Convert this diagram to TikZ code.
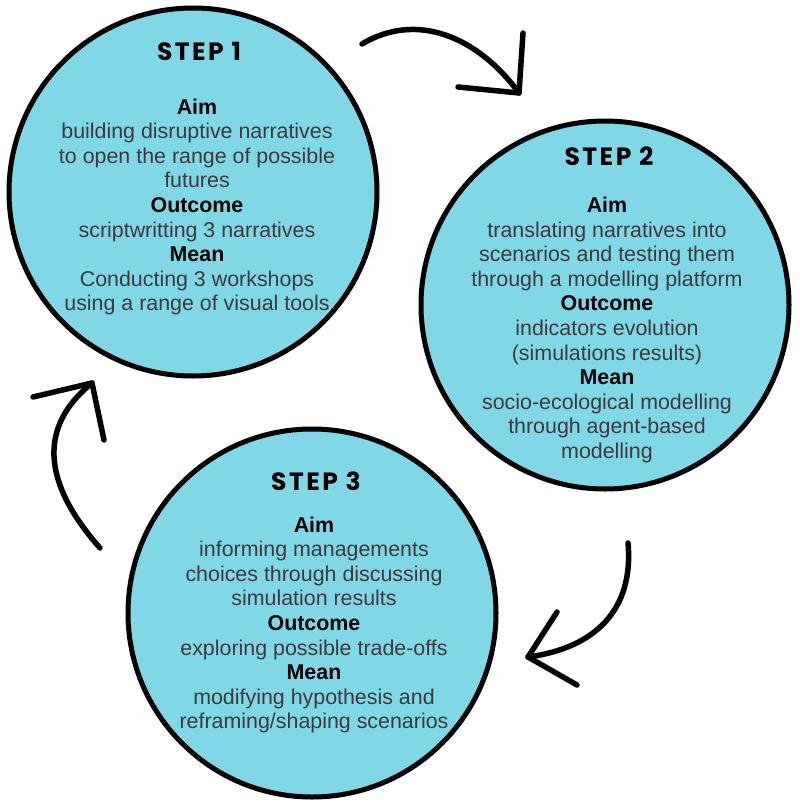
\documentclass[tikz,border=0pt]{standalone}
\usepackage{fontspec}
\setmainfont{Liberation Sans}
\newfontfamily\headfont[LetterSpace=10]{Poppins}
\definecolor{cyanfill}{RGB}{128,216,230}
\definecolor{bodygray}{RGB}{58,58,58}
\tikzset{
  stepcircle/.style={circle, draw=black, line width=5pt, fill=cyanfill, minimum size=368pt, inner sep=0pt},
  steptitle/.style={anchor=base, inner sep=0pt, font=\headfont\bfseries\fontsize{25}{29}\selectfont},
  stepbody/.style={align=center, inner sep=0pt, text=bodygray, font=\fontsize{21.4}{24.6}\selectfont},
  curvearrow/.style={line width=5.5pt, line cap=round, line join=round}
}
\newcommand{\lbl}[1]{{\bfseries\color{black}#1}}
\begin{document}
\begin{tikzpicture}[x=1pt,y=-1pt]
\useasboundingbox (0,0) rectangle (800,803);
% circles
\node[stepcircle] (c1) at (193,192) {};
\node[stepcircle] (c2) at (605,305) {};
\node[stepcircle] (c3) at (312,613) {};
% titles
\node[steptitle] (t1) at (199,60) {STEP 1};
\node[steptitle] (t2) at (609,165) {STEP 2};
\node[steptitle] (t3) at (316,490) {STEP 3};
% bodies
\node[stepbody] (b1) at (197,207) {\lbl{Aim}\\building disruptive narratives\\to open the range of possible\\futures\\\lbl{Outcome}\\scriptwritting 3 narratives\\\lbl{Mean}\\Conducting 3 workshops\\using a range of visual tools};
\node[stepbody] (b2) at (607,330) {\lbl{Aim}\\translating narratives into\\scenarios and testing them\\through a modelling platform\\\lbl{Outcome}\\indicators evolution\\(simulations results)\\\lbl{Mean}\\socio-ecological modelling\\through agent-based\\modelling};
\node[stepbody] (b3) at (314,625) {\lbl{Aim}\\informing managements\\choices through discussing\\simulation results\\\lbl{Outcome}\\exploring possible trade-offs\\\lbl{Mean}\\modifying hypothesis and\\reframing/shaping scenarios};
% arrow 1 -> 2
\coordinate (s1) at (362,44);
\coordinate (e1) at (519,93);
\coordinate (h1a) at (458,87);
\coordinate (h1b) at (523,33);
\draw[curvearrow] (s1) .. controls (417,11) and (478,37) .. (e1);
\draw[curvearrow] (h1a) -- (e1) -- (h1b);
% arrow 2 -> 3
\coordinate (s2) at (628,543);
\coordinate (e2) at (528,657);
\coordinate (h2a) at (557,612);
\coordinate (h2b) at (577,685);
\draw[curvearrow] (s2) .. controls (634,610) and (595,648) .. (e2);
\draw[curvearrow] (h2a) -- (e2) -- (h2b);
% arrow 3 -> 1
\coordinate (s3) at (100,548);
\coordinate (e3) at (92,383);
\coordinate (h3a) at (33,397);
\coordinate (h3b) at (104,440);
\draw[curvearrow] (s3) .. controls (40,480) and (40,425) .. (e3);
\draw[curvearrow] (h3a) -- (e3) -- (h3b);
\end{tikzpicture}
\end{document}
